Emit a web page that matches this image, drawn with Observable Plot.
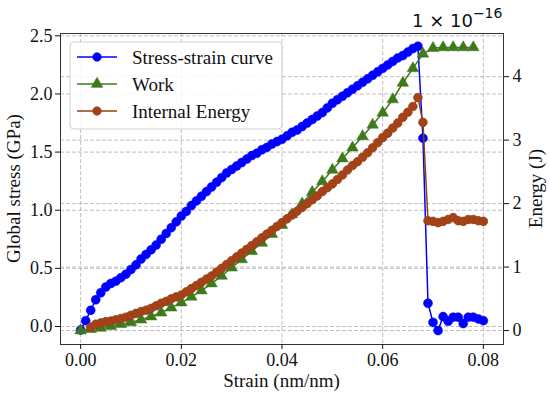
<!DOCTYPE html>
<html><head><meta charset="utf-8">
<script src="https://cdn.jsdelivr.net/npm/d3@7"></script>
<script src="https://cdn.jsdelivr.net/npm/@observablehq/plot@0.6"></script>
<style>body{margin:0;background:#fff} #chart svg text{font-family:"Liberation Serif",serif}</style>
</head><body><div id="chart"></div>
<script>
// Stress-strain curve (left axis, GPa)
const stressStrain = [0.000,0.001,0.002,0.003,0.004,0.005,0.006,0.007,0.008,0.009,0.010,0.011,0.012,0.013,0.014,0.015,0.016,0.017,0.018,0.019,0.020,0.021,0.022,0.023,0.024,0.025,0.026,0.027,0.028,0.029,0.030,0.031,0.032,0.033,0.034,0.035,0.036,0.037,0.038,0.039,0.040,0.041,0.042,0.043,0.044,0.045,0.046,0.047,0.048,0.049,0.050,0.051,0.052,0.053,0.054,0.055,0.056,0.057,0.058,0.059,0.060,0.061,0.062,0.063,0.064,0.065,0.066,0.067,0.068,0.069,0.070,0.071,0.072,0.073,0.074,0.075,0.076,0.077,0.078,0.079,0.080];
const stressGPa = [-0.03,0.05,0.14,0.23,0.29,0.34,0.37,0.39,0.42,0.45,0.49,0.53,0.58,0.62,0.66,0.70,0.75,0.80,0.85,0.90,0.95,0.99,1.04,1.08,1.12,1.16,1.20,1.24,1.28,1.32,1.35,1.38,1.41,1.44,1.47,1.49,1.52,1.54,1.57,1.59,1.61,1.64,1.67,1.69,1.72,1.75,1.78,1.81,1.84,1.88,1.92,1.95,1.98,2.01,2.04,2.07,2.10,2.13,2.16,2.19,2.22,2.25,2.28,2.31,2.33,2.36,2.39,2.41,1.62,0.20,0.035,-0.035,0.085,0.045,0.08,0.08,0.025,0.08,0.08,0.065,0.05];
// Work (right axis, x1e-16 J)
const workStrain = [0.000,0.002,0.004,0.006,0.008,0.010,0.012,0.014,0.016,0.018,0.020,0.022,0.024,0.026,0.028,0.030,0.032,0.034,0.036,0.038,0.040,0.042,0.044,0.046,0.048,0.050,0.052,0.054,0.056,0.058,0.060,0.062,0.064,0.066,0.068,0.070,0.072,0.074,0.076,0.078];
const workJ = [0.00,0.02,0.04,0.07,0.10,0.13,0.17,0.22,0.28,0.36,0.44,0.53,0.63,0.74,0.86,0.99,1.12,1.25,1.38,1.52,1.66,1.83,2.00,2.18,2.35,2.53,2.71,2.88,3.06,3.24,3.43,3.64,3.90,4.13,4.36,4.45,4.46,4.46,4.46,4.46];
// Internal energy (right axis, x1e-16 J)
const ieStrain = [0.002,0.003,0.004,0.005,0.006,0.007,0.008,0.009,0.010,0.011,0.012,0.013,0.014,0.015,0.016,0.017,0.018,0.019,0.020,0.021,0.022,0.023,0.024,0.025,0.026,0.027,0.028,0.029,0.030,0.031,0.032,0.033,0.034,0.035,0.036,0.037,0.038,0.039,0.040,0.041,0.042,0.043,0.044,0.045,0.046,0.047,0.048,0.049,0.050,0.051,0.052,0.053,0.054,0.055,0.056,0.057,0.058,0.059,0.060,0.061,0.062,0.063,0.064,0.065,0.066,0.067,0.068,0.069,0.070,0.071,0.072,0.073,0.074,0.075,0.076,0.077,0.078,0.079,0.080];
const ieJ = [0.05,0.10,0.12,0.14,0.15,0.17,0.19,0.21,0.24,0.27,0.30,0.32,0.35,0.39,0.43,0.46,0.50,0.53,0.56,0.61,0.66,0.71,0.76,0.81,0.86,0.92,0.98,1.04,1.10,1.16,1.22,1.28,1.34,1.40,1.46,1.52,1.58,1.64,1.70,1.76,1.82,1.88,1.94,2.00,2.06,2.12,2.19,2.25,2.31,2.38,2.45,2.53,2.60,2.66,2.73,2.80,2.88,2.96,3.04,3.11,3.19,3.27,3.36,3.44,3.53,3.67,3.28,1.73,1.72,1.70,1.72,1.75,1.78,1.73,1.72,1.75,1.75,1.73,1.72];

const xTicks = [0.00,0.02,0.04,0.06,0.08];
const yLeftTicks = [0.0,0.5,1.0,1.5,2.0,2.5];
const yRightTicks = [0,1,2,3,4];
const seriesNames = ["Stress-strain curve","Work","Internal Energy"];

const xDomain = [-0.0040, 0.0840];
const yLeft = [-0.155, 2.52];
const yRight = [-0.22, 4.68];
const k = (yLeft[1]-yLeft[0])/(yRight[1]-yRight[0]);
const toLeft = e => yLeft[0] + (e - yRight[0]) * k;
const fromLeft = v => (v - yLeft[0]) / k + yRight[0];

const stress = stressStrain.map((s,i)=>({x:s, y:stressGPa[i]}));
const work = workStrain.map((s,i)=>({x:s, y:toLeft(workJ[i])}));
const ie = ieStrain.map((s,i)=>({x:s, y:toLeft(ieJ[i])}));

const BLUE = "#0000ff", GREEN = "#3e7a1c", BROWN = "#8b4513", BROWNFILL = "#a8401a";
const grid = {stroke:"#b8b8b8", strokeOpacity:1, strokeDasharray:"4,2", strokeWidth:0.9};
const W = 550, H = 395;
const mL = 60, mR = 47, mT = 33, mB = 51;

const svg = Plot.plot({
  width: W, height: H,
  marginLeft: mL, marginRight: mR, marginTop: mT, marginBottom: mB,
  style: {fontFamily: "'Liberation Serif', serif", fontSize: "18px", color: "#111", background: "#fff"},
  x: {domain: xDomain},
  y: {domain: yLeft},
  marks: [
    Plot.gridX(xTicks, grid),
    Plot.gridY(yLeftTicks, grid),
    Plot.gridY(yRightTicks.map(toLeft), grid),
    Plot.line(stress, {x:"x", y:"y", stroke:BLUE, strokeWidth:1.5}),
    Plot.dot(stress, {x:"x", y:"y", r:4.5, fill:BLUE, stroke:BLUE, strokeWidth:0.5}),
    Plot.line(work, {x:"x", y:"y", stroke:GREEN, strokeWidth:1.5}),
    Plot.dot(work, {x:"x", y:"y", symbol:"triangle", r:4.3, fill:GREEN, stroke:GREEN, strokeWidth:0.5}),
    Plot.line(ie, {x:"x", y:"y", stroke:BROWN, strokeWidth:1.5}),
    Plot.dot(ie, {x:"x", y:"y", r:4.3, fill:BROWNFILL, stroke:BROWN, strokeWidth:0.8}),
    Plot.frame({stroke:"#333", strokeWidth:1}),
    Plot.axisX(xTicks, {tickSize:5, tickPadding:4, fontSize:18, tickFormat:d3.format(".2f"), label:null}),
    Plot.axisY(yLeftTicks, {anchor:"left", tickSize:5, tickPadding:3, fontSize:18, tickFormat:d3.format(".1f"), label:null}),
    Plot.axisY(yRightTicks.map(toLeft), {anchor:"right", tickSize:5, tickPadding:4, fontSize:18, tickFormat:d=>String(Math.round(fromLeft(d))), label:null})
  ]
});
document.getElementById("chart").appendChild(svg);

const s = d3.select(svg);
const fw = W - mL - mR, fh = H - mT - mB;
const serif = t => t.attr("font-family","Liberation Serif, serif").attr("fill","#111");
// axis labels
serif(s.append("text").attr("x", mL + fw/2).attr("y", 387).attr("text-anchor","middle")
  .attr("font-size",19)).text("Strain (nm/nm)");
serif(s.append("text").attr("transform",`translate(20,${mT+fh/2}) rotate(-90)`).attr("text-anchor","middle")
  .attr("font-size",19)).text("Global stress (GPa)");
serif(s.append("text").attr("transform",`translate(542,${mT+fh/2}) rotate(-90)`).attr("text-anchor","middle")
  .attr("font-size",19)).text("Energy (J)");
// offset (multiplier) text
const off = s.append("text").attr("x",412).attr("y",27).attr("text-anchor","start")
  .attr("style","font-family:'DejaVu Sans',sans-serif").attr("font-size",18).attr("fill","#111");
off.append("tspan").text("1 × 10");
off.append("tspan").attr("dy",-9).attr("font-size",14).text("−16");

// legend
const lg = s.append("g");
lg.append("rect").attr("x",70).attr("y",42).attr("width",212).attr("height",87).attr("rx",4)
  .attr("fill","#fff").attr("fill-opacity",0.85).attr("stroke","#d0d0d0");
const entries = [
  {name:seriesNames[0], color:BLUE, fill:BLUE, sym:d3.symbolCircle},
  {name:seriesNames[1], color:GREEN, fill:GREEN, sym:d3.symbolTriangle},
  {name:seriesNames[2], color:BROWN, fill:BROWNFILL, sym:d3.symbolCircle}
];
entries.forEach((e,i)=>{
  const y = 57 + i*27;
  lg.append("line").attr("x1",77).attr("x2",117).attr("y1",y).attr("y2",y).attr("stroke",e.color).attr("stroke-width",1.5);
  lg.append("path").attr("transform",`translate(97,${y})`).attr("d",d3.symbol(e.sym, Math.PI*4.3*4.3)())
    .attr("fill",e.fill).attr("stroke",e.color).attr("stroke-width",0.6);
  serif(lg.append("text").attr("x",132).attr("y",y).attr("dy","0.35em").attr("text-anchor","start")
    .attr("font-size",19)).text(e.name);
});
</script>
</body></html>
